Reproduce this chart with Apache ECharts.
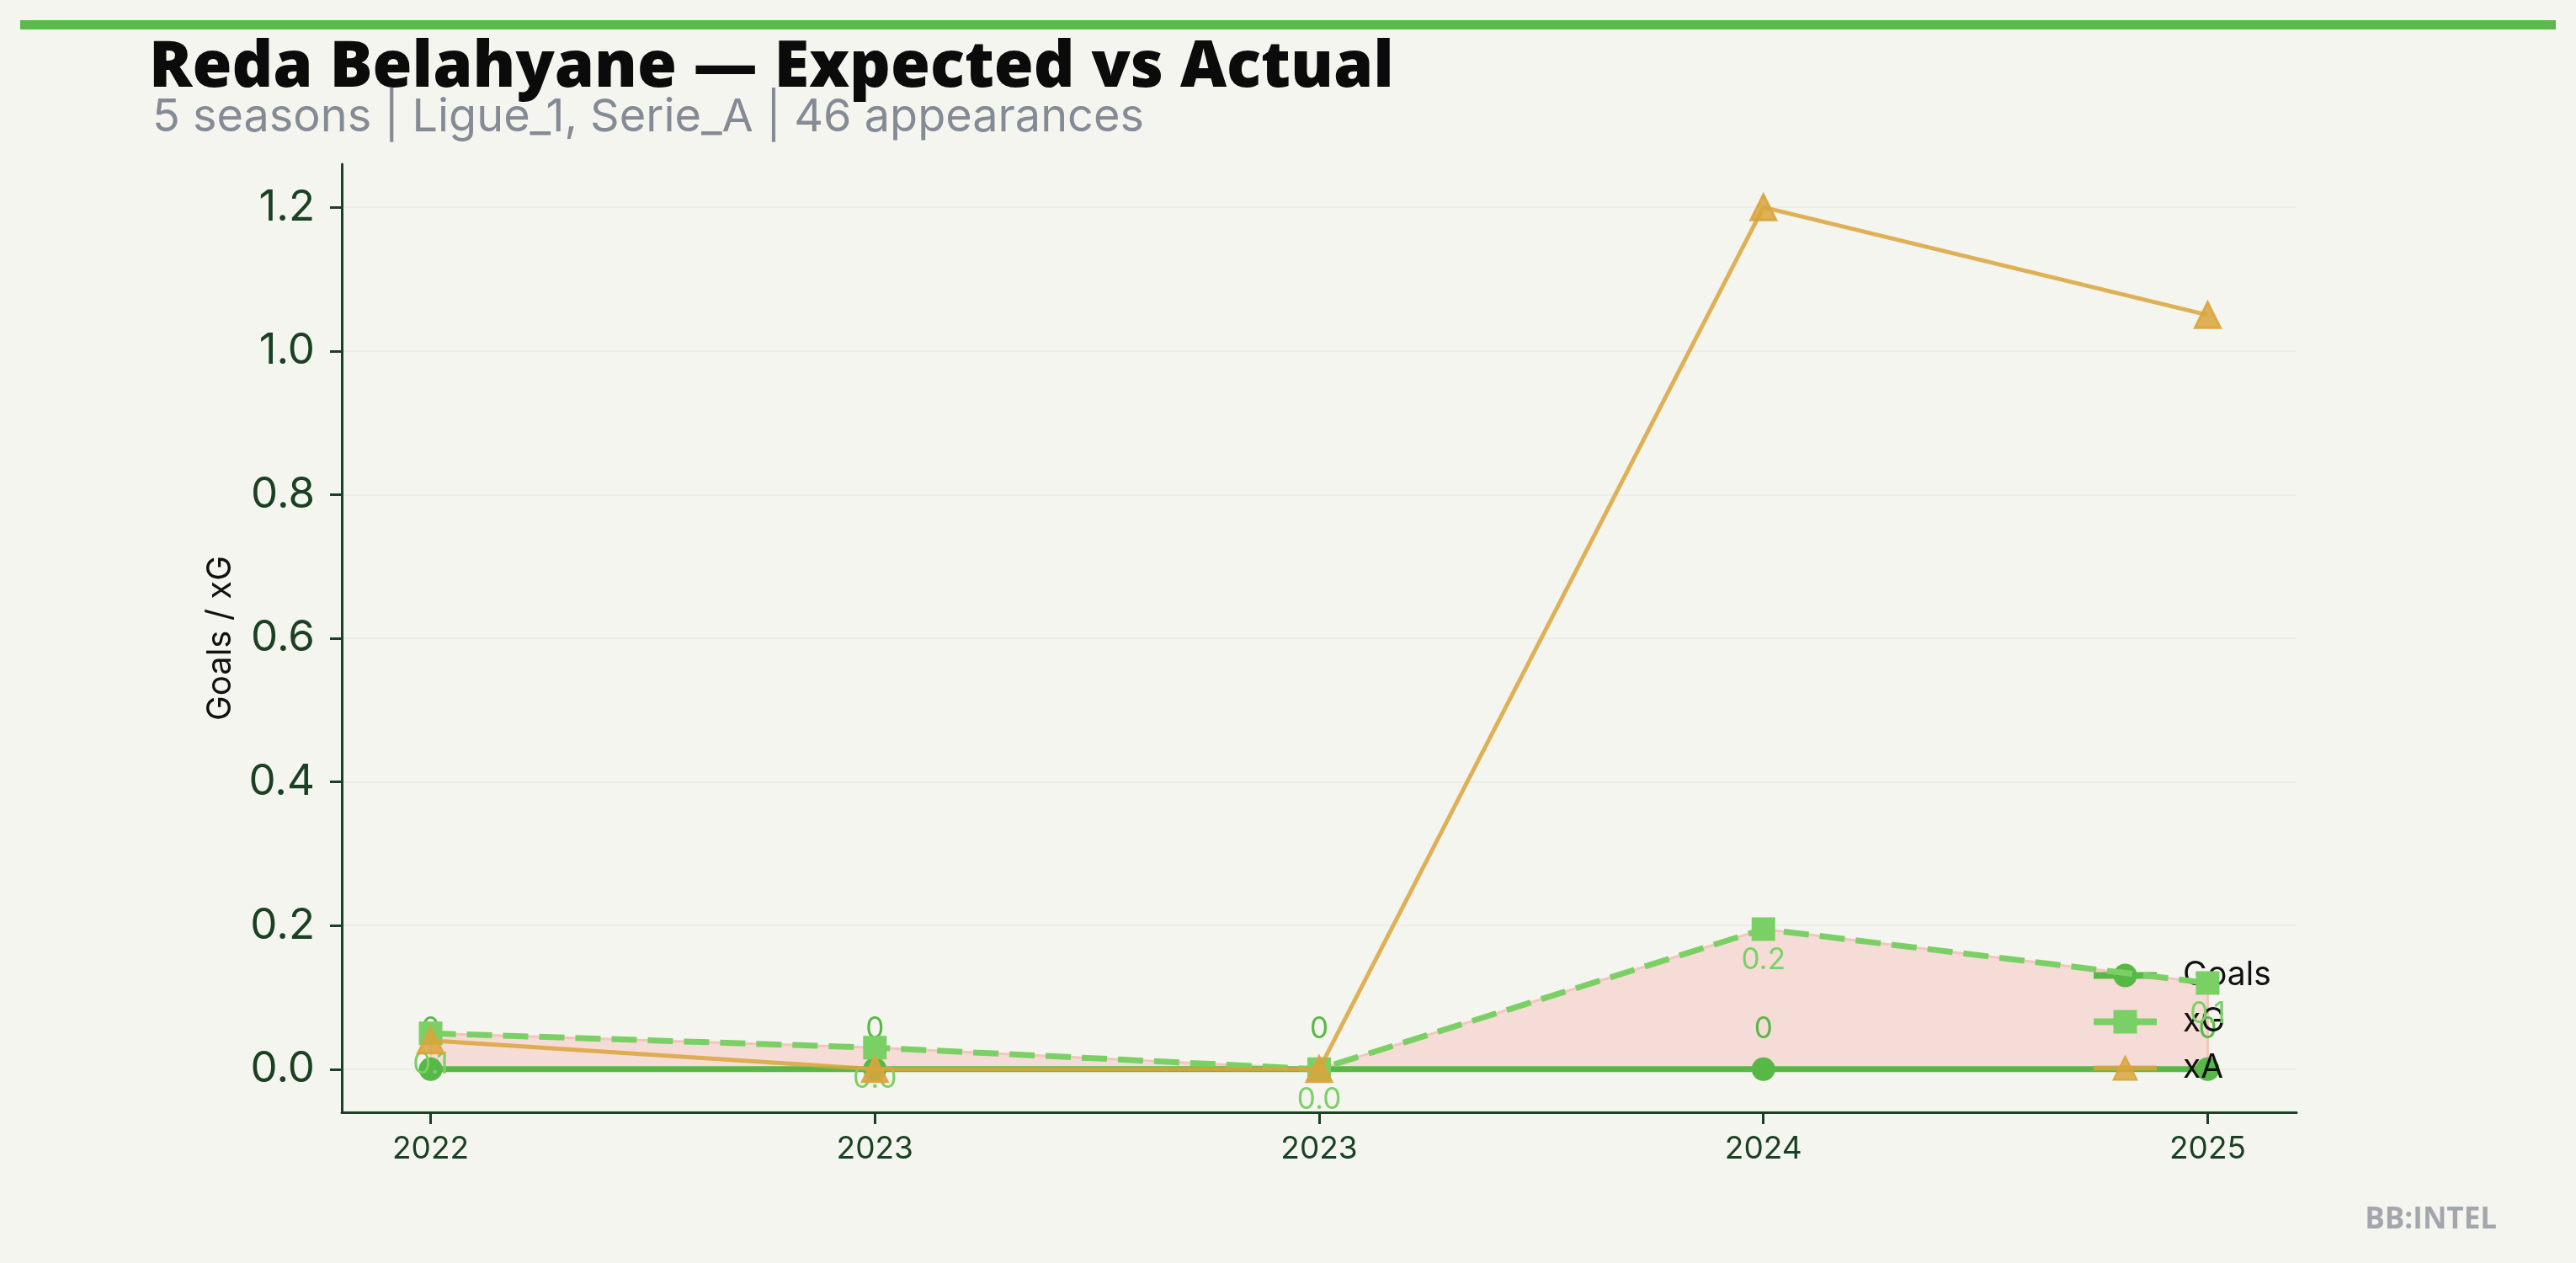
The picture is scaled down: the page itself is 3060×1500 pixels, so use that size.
<!DOCTYPE html>
<html>
<head>
<meta charset="utf-8">
<script src="https://cdn.jsdelivr.net/npm/echarts@6/dist/echarts.min.js"></script>
<style>
html,body{margin:0;padding:0;background:#f4f5ef;}
#c{width:3060px;height:1500px;}
</style>
</head>
<body>
<div id="c"></div>
<script>
// ---- data ----
const seasons = ['2022', '2023', '2023', '2024', '2025'];
const goals = [0, 0, 0, 0, 0];
const xg = [0.05, 0.03, 0.0, 0.195, 0.12];
const xa = [0.04, 0.0, 0.0, 1.2, 1.05];
const yTicks = [0, 0.2, 0.4, 0.6, 0.8, 1.0, 1.2];
const xTicks = [0, 1, 2, 3, 4];

const titleText = 'Reda Belahyane — Expected vs Actual';
const subText = '5 seasons | Ligue_1, Serie_A | 46 appearances';

const C_GOALS = '#57b847';
const C_XG = '#7bd065';
const C_XA = 'rgba(217,164,60,0.85)';
const AXIS = '#1b4023';

const pts = arr => arr.map((v, i) => [i, v]);

const chart = echarts.init(document.getElementById('c'), null, {renderer: 'canvas'});
chart.setOption({
  backgroundColor: '#f4f5ef',
  animation: false,
  title: [
    {text: titleText, left: 172, top: 38,
     textStyle: {fontFamily: 'Open Sans', fontWeight: 800, fontSize: 76, color: '#0b0b0b'}},
    {text: subText, left: 176, top: 108,
     textStyle: {fontFamily: 'Inter', fontWeight: 400, fontSize: 54, color: '#858b95'}}
  ],
  graphic: [
    {type: 'rect', shape: {x: 24, y: 24, width: 3012, height: 11}, style: {fill: '#5bbb4a'}, z: 10},
    {type: 'text', right: 94, top: 1432,
     style: {text: 'BB:INTEL', fill: '#a3a7ad', font: 'bold 35px "Open Sans"'}}
  ],
  grid: {left: 406, right: 332, top: 195, bottom: 179, containLabel: false},
  xAxis: {
    type: 'value', min: -0.2, max: 4.2,
    axisLine: {show: true, onZero: false, lineStyle: {color: AXIS, width: 3}},
    axisTick: {show: true, customValues: xTicks, length: 14, lineStyle: {color: AXIS, width: 3}},
    axisLabel: {customValues: xTicks, margin: 25, fontFamily: 'Inter', fontSize: 37, color: AXIS,
      formatter: v => seasons[Math.round(v)] ?? ''},
    splitLine: {show: false}
  },
  yAxis: {
    type: 'value', min: -0.06, max: 1.26,
    name: 'Goals / xG', nameLocation: 'middle', nameRotate: 90, nameGap: 124,
    nameTextStyle: {fontFamily: 'Inter', fontSize: 40, color: '#111'},
    axisLine: {show: true, onZero: false, lineStyle: {color: AXIS, width: 3}},
    axisTick: {show: true, customValues: yTicks, length: 14, lineStyle: {color: AXIS, width: 3}},
    axisLabel: {customValues: yTicks, margin: 32, fontFamily: 'Inter', fontSize: 51, color: AXIS,
      formatter: v => v.toFixed(1)},
    splitLine: {show: true, lineStyle: {color: '#ecede6', width: 2}}
  },
  legend: {
    data: [
      {name: 'Goals', lineStyle: {width: 8}},
      {name: 'xG', lineStyle: {width: 8, type: 'solid'}},
      {name: 'xA', lineStyle: {width: 6}}
    ],
    orient: 'vertical', left: 2478, top: 1134,
    itemWidth: 75, itemHeight: 35, itemGap: 16,
    textStyle: {fontFamily: 'Inter', fontSize: 39, lineHeight: 35, color: '#111', padding: [0, 0, 0, 26]},
    backgroundColor: 'transparent'
  },
  series: [
    {name: 'fill', type: 'custom', silent: true, z: 1, data: [[0, 0]],
     renderItem: (params, api) => {
       const top = xg.map((v, i) => api.coord([i, Math.max(v, goals[i])]));
       const bot = goals.map((v, i) => api.coord([i, v])).reverse();
       return {type: 'polygon', shape: {points: top.concat(bot)},
               style: {fill: '#f6dcd7', stroke: '#f2c6bf', lineWidth: 3}};
     }},
    {name: 'Goals', type: 'line', data: pts(goals), symbol: 'circle', symbolSize: 28,
     itemStyle: {color: C_GOALS}, lineStyle: {color: C_GOALS, width: 7}, z: 3,
     label: {show: true, position: 'inside', offset: [0, -47], color: C_GOALS, fontFamily: 'Inter', fontSize: 35,
       formatter: p => String(Math.round(p.value[1]))}},
    {name: 'xG', type: 'line', data: pts(xg), symbol: 'rect', symbolSize: 28,
     itemStyle: {color: C_XG}, lineStyle: {color: C_XG, width: 7, type: [30, 13]}, z: 4,
     label: {show: true, position: 'inside', offset: [0, 37], color: C_XG, fontFamily: 'Inter', fontSize: 35,
       formatter: p => p.value[1].toFixed(1)}},
    {name: 'xA', type: 'line', data: pts(xa), symbol: 'triangle', symbolSize: 30,
     itemStyle: {color: C_XA, borderColor: 'rgba(217,164,60,0.9)', borderWidth: 3},
     lineStyle: {color: C_XA, width: 5}, z: 5}
  ]
});
</script>
</body>
</html>
